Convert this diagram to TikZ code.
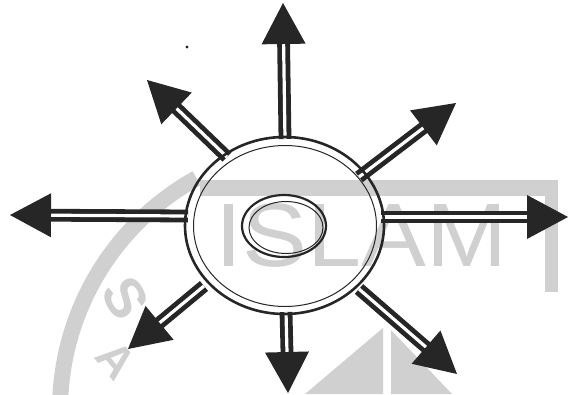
\documentclass[tikz,border=0pt]{standalone}
\usepackage{fontspec}
\setsansfont{Liberation Sans}
\usetikzlibrary{calc,shapes.geometric}
\definecolor{ink}{HTML}{262626}
\definecolor{wm}{HTML}{D0D0D0}
\tikzset{
  shaft/.style={draw=ink,line width=4.8pt,double=white,double distance=3.2pt},
  ringline/.style={ellipse,draw=ink,inner sep=0pt},
  head/.style={fill=ink},
  wmark/.style={fill=wm,draw=none},
}
\newcommand{\arrowhead}[2]{% #1 tip, #2 start
  \fill[head] (#1) -- ($(#1)!41pt!(#2)!22pt!90:(#2)$) -- ($(#1)!41pt!(#2)!22pt!-90:(#2)$) -- cycle;
}
\begin{document}
\begin{tikzpicture}[x=1pt,y=-1pt]
\useasboundingbox (0,0) rectangle (570,394);
% watermark
\fill[wmark] (200,180) rectangle (558,196);
\fill[wmark] (545,180) rectangle (558,292);
\draw[wm,line width=16pt] (325,410) ++(241:265) arc[start angle=241,end angle=183,radius=265];
\node[wm,font=\sffamily\fontsize{90}{90}\selectfont,xscale=1.08,anchor=base west] (wmtext) at (212,266) {ISLAM};
\node[wm,font=\sffamily\bfseries\fontsize{56}{56}\selectfont,rotate=-60] (wms) at (126,298) {S};
\node[wm,font=\sffamily\bfseries\fontsize{46}{46}\selectfont,rotate=-50] (wma) at (116,360) {A};
\fill[wmark] (383,328) -- (383,394) -- (305,394) -- cycle;
\fill[wmark] (391,330) -- (452,394) -- (391,394) -- cycle;
% speck
\fill[ink] (187,47) circle (1.6);
% coordinates
\coordinate (tU) at (283,3);    \coordinate (sU) at (285,139);
\coordinate (tUL) at (147,80);  \coordinate (sUL) at (227,157);
\coordinate (tUR) at (456,103); \coordinate (sUR) at (359,177);
\coordinate (tL) at (10,215);   \coordinate (sL) at (188,216);
\coordinate (tR) at (568,217);  \coordinate (sR) at (381,217);
\coordinate (tLL) at (128,349); \coordinate (sLL) at (204,286);
\coordinate (tD) at (288,393);  \coordinate (sD) at (286,312);
\coordinate (tLR) at (457,374); \coordinate (sLR) at (359,289);
% shafts
\foreach \t/\s in {tU/sU,tUL/sUL,tUR/sUR,tL/sL,tR/sR,tLL/sLL,tD/sD,tLR/sLR}{
  \draw[shaft] (\s) -- ($(\t)!37pt!(\s)$);
  \arrowhead{\t}{\s}
}
% ring
\node[ringline,line width=2.6pt,minimum width=199pt,minimum height=177pt] (ring) at (284.5,225.5) {};
\node[ringline,line width=1pt,minimum width=183pt,minimum height=161pt] (ringin) at (285,226) {};
% hub
\node[ringline,line width=2.2pt,minimum width=84pt,minimum height=62pt] (hub) at (284,226) {};
\node[ringline,line width=1pt,minimum width=74pt,minimum height=52pt] (hubin) at (286,227.5) {};
\end{tikzpicture}
\end{document}
